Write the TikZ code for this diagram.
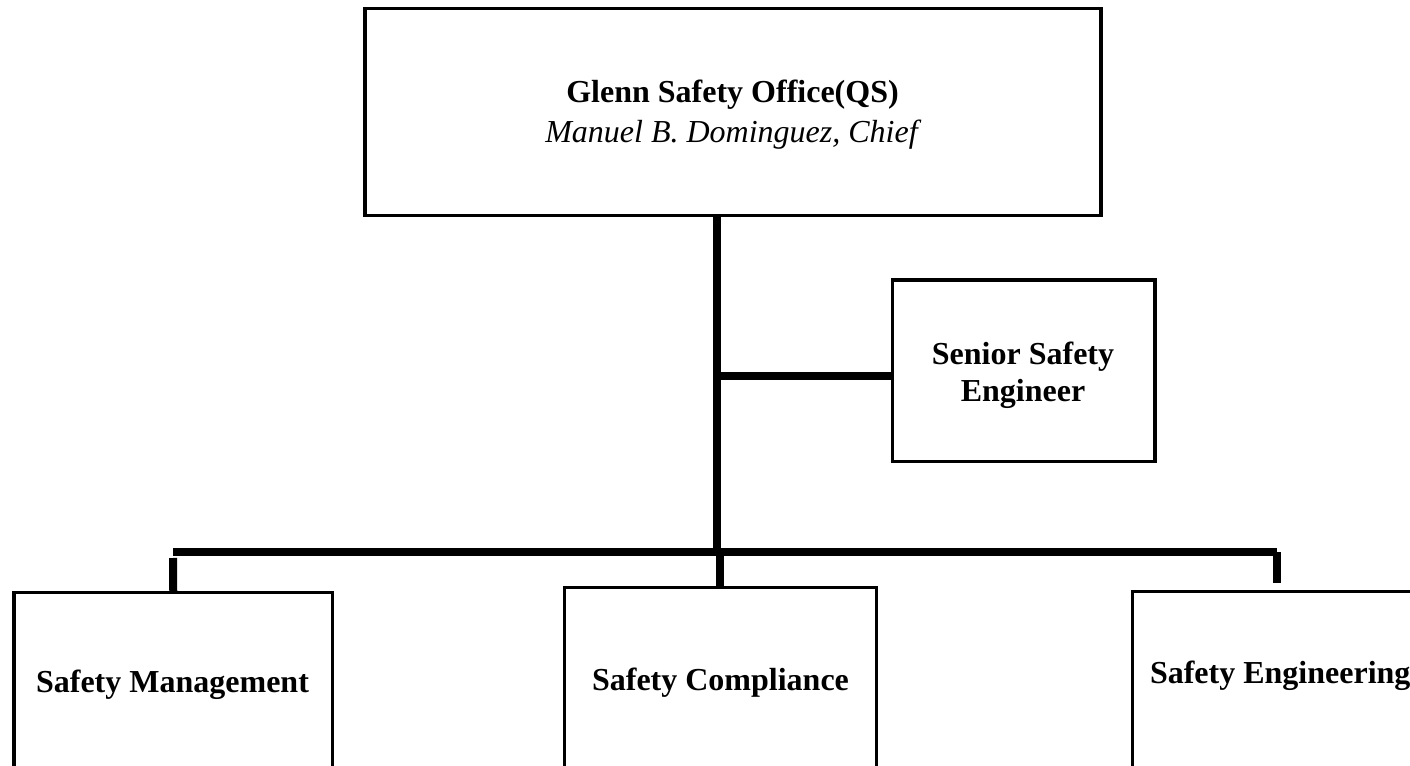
\documentclass[tikz,border=0pt]{standalone}
\usepackage{fontspec}
\setmainfont{Liberation Serif}
\begin{document}
\begin{tikzpicture}[x=0.75pt,y=-0.75pt,
  box/.style={draw=black,fill=white,inner sep=0pt,outer sep=0pt,line width=2.5pt},
  topbox/.style={box,line width=2.6pt},
  conn/.style={draw=black,line width=6pt,line cap=butt},
  lbl/.style={inner sep=0pt,outer sep=0pt,anchor=base,font=\fontsize{24pt}{28pt}\selectfont\bfseries},
  ilbl/.style={lbl,font=\fontsize{24pt}{28pt}\selectfont\itshape}]
\useasboundingbox (0,0) rectangle (1410,766);
\clip (0,0) rectangle (1410,766);
\fill[white] (0,0) rectangle (1410,766);
% boxes
\node[topbox,minimum width=552pt,minimum height=155.25pt] (top) at (733,112) {};
\node[box,line width=2.3pt,minimum width=196.9pt,minimum height=136.1pt] (sen) at (1023.75,370.75) {};
\node[box,anchor=north west,minimum width=238.9pt,minimum height=160pt] (sm) at (14,592.5) {};
\node[box,anchor=north west,minimum width=234pt,minimum height=160pt] (sc) at (564.5,587.5) {};
\node[box,anchor=north west,minimum width=262.5pt,minimum height=160pt] (se) at (1132.5,591.5) {};
% labels
\node[lbl] (topt) at (732.5,103) {Glenn Safety Office(QS)};
\node[ilbl] (topc) at (731.5,143) {Manuel B. Dominguez, Chief};
\node[lbl] (sen1) at (1023,365) {Senior Safety};
\node[lbl] (sen2) at (1023,402) {Engineer};
\node[lbl] (smt) at (172.5,692) {Safety Management};
\node[lbl] (sct) at (720.5,690) {Safety Compliance};
\node[lbl,anchor=base west] (set) at (1150,683) {Safety Engineering};
% connector points
\coordinate (tk) at (717,553);
\coordinate (sj) at (717,376);
\coordinate (bl) at (173,552);
\coordinate (br) at (1277,552);
\coordinate (dl) at (173,558);
\coordinate (dc) at (720,556);
\coordinate (dr) at (1277,583);
% connectors
\draw[conn] (top.south -| tk) -- (tk);
\draw[conn] (sj) -- (sen.west |- sj);
\draw[conn] (bl) -- (br);
\draw[conn] (dl) -- (sm.north);
\draw[conn] (dc) -- (sc.north -| dc);
\draw[conn] (br) -- (dr);
\end{tikzpicture}
\end{document}
